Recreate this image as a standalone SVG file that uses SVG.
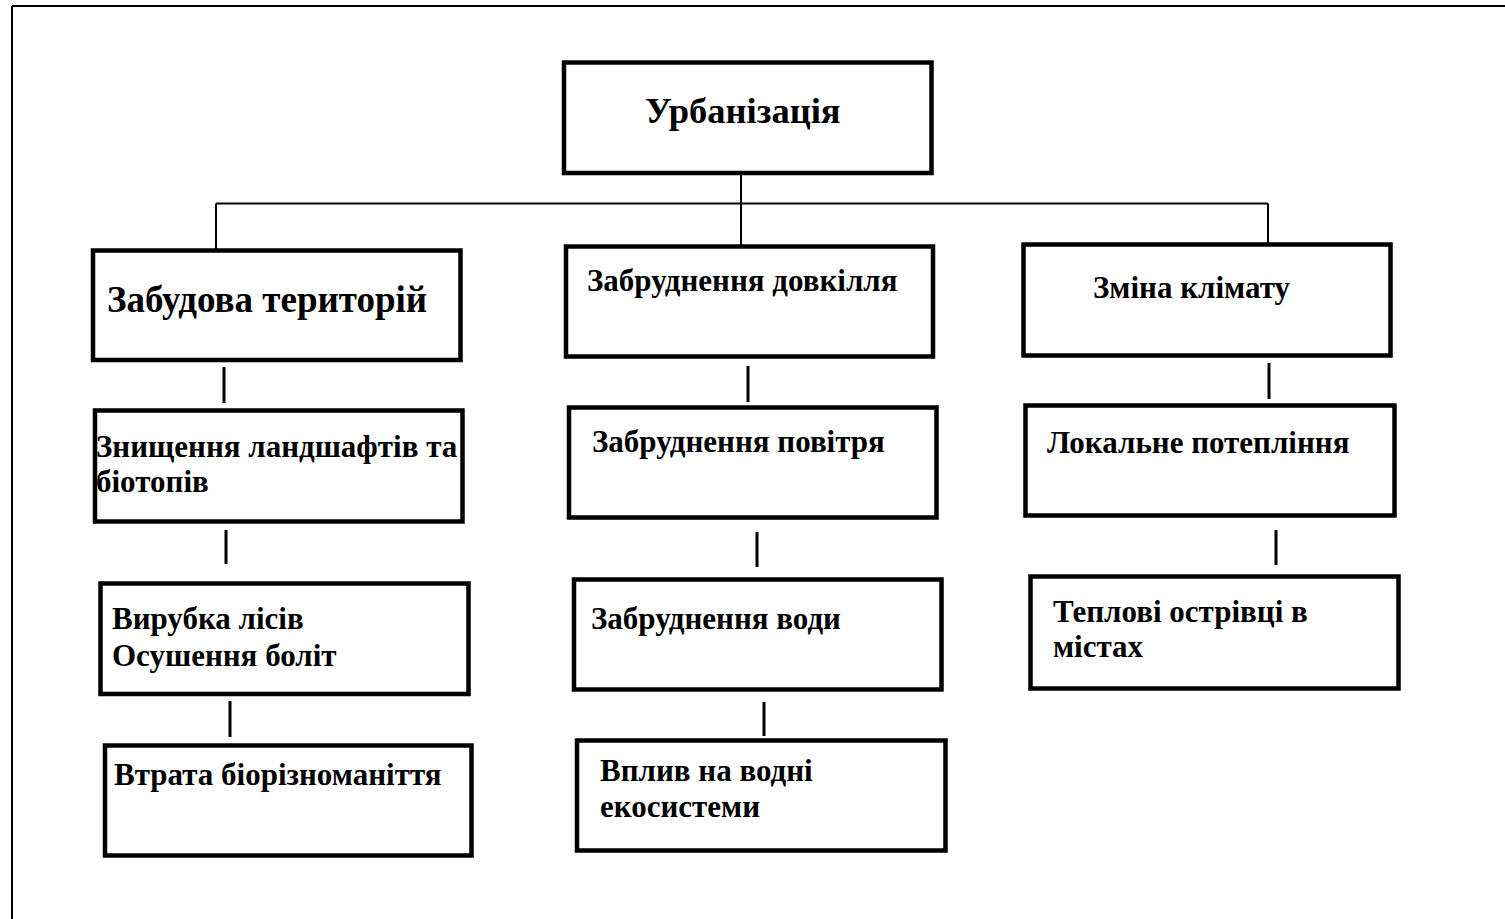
<svg xmlns="http://www.w3.org/2000/svg" width="1505" height="919" viewBox="0 0 1505 919">
<style>
.box{fill:#fff;stroke:#000;stroke-width:4.5}
.t{font-family:"Liberation Serif","Times New Roman",serif;font-weight:bold;fill:#000}
.s{font-size:31px}
.c{stroke:#000;fill:none}
.thin{stroke-width:2}
.stub{stroke-width:3}
</style>
<rect width="1505" height="919" fill="#fff"/>
<g id="frame" class="c">
<line x1="12" y1="6" x2="1505" y2="6" stroke-width="2.2"/>
<line x1="12" y1="6" x2="12" y2="919" stroke-width="2"/>
</g>
<g id="connectors" class="c">
<line class="thin" x1="741" y1="175" x2="741" y2="245"/>
<line class="thin" x1="216" y1="203.5" x2="1268" y2="203.5"/>
<line class="thin" x1="216" y1="203.5" x2="216" y2="249"/>
<line class="thin" x1="1268" y1="203.5" x2="1268" y2="243"/>
<line class="stub" x1="224" y1="367" x2="224" y2="403"/>
<line class="stub" x1="226" y1="530" x2="226" y2="564"/>
<line class="stub" x1="230" y1="701" x2="230" y2="737"/>
<line class="stub" x1="748" y1="366" x2="748" y2="402"/>
<line class="stub" x1="757" y1="532" x2="757" y2="567"/>
<line class="stub" x1="764" y1="702" x2="764" y2="736"/>
<line class="stub" x1="1269" y1="363" x2="1269" y2="399"/>
<line class="stub" x1="1276" y1="530" x2="1276" y2="565"/>
</g>
<g id="n-urb">
<rect class="box" x="564" y="62.5" width="367.5" height="110.5"/>
<text class="t" x="645" y="123" font-size="36.5">Урбанізація</text>
</g>
<g id="n-zabudova">
<rect class="box" x="93" y="250.5" width="367.5" height="109.5"/>
<text class="t" x="107" y="312" font-size="37">Забудова територій</text>
</g>
<g id="n-dovkillia">
<rect class="box" x="566" y="246.5" width="367" height="110"/>
<text class="t s" x="587" y="291">Забруднення довкілля</text>
</g>
<g id="n-klimat">
<rect class="box" x="1023.5" y="244.5" width="367" height="111"/>
<text class="t s" x="1093" y="298">Зміна клімату</text>
</g>
<g id="n-znyshchennia">
<rect class="box" x="95" y="410.5" width="367.5" height="111"/>
<text class="t s" x="96" y="457">Знищення ландшафтів та</text>
<text class="t s" x="96" y="492">біотопів</text>
</g>
<g id="n-povitria">
<rect class="box" x="569" y="407.5" width="367.5" height="110"/>
<text class="t s" x="592" y="452">Забруднення повітря</text>
</g>
<g id="n-poteplinnia">
<rect class="box" x="1025.5" y="405.5" width="369" height="110"/>
<text class="t s" x="1047" y="453">Локальне потепління</text>
</g>
<g id="n-vyrubka">
<rect class="box" x="100.5" y="583.5" width="368" height="110.5"/>
<text class="t s" x="112" y="629">Вирубка лісів</text>
<text class="t s" x="112" y="666">Осушення боліт</text>
</g>
<g id="n-voda">
<rect class="box" x="574" y="579.5" width="367.5" height="110"/>
<text class="t s" x="591" y="629">Забруднення води</text>
</g>
<g id="n-ostrivtsi">
<rect class="box" x="1030.5" y="576.5" width="368" height="112"/>
<text class="t s" x="1053" y="622">Теплові острівці в</text>
<text class="t s" x="1053" y="657">містах</text>
</g>
<g id="n-biorizn">
<rect class="box" x="105" y="745.5" width="366.5" height="110"/>
<text class="t s" x="114" y="785">Втрата біорізноманіття</text>
</g>
<g id="n-vplyv">
<rect class="box" x="577" y="740.5" width="368.5" height="110"/>
<text class="t s" x="600" y="781">Вплив на водні</text>
<text class="t s" x="600" y="817">екосистеми</text>
</g>
</svg>
